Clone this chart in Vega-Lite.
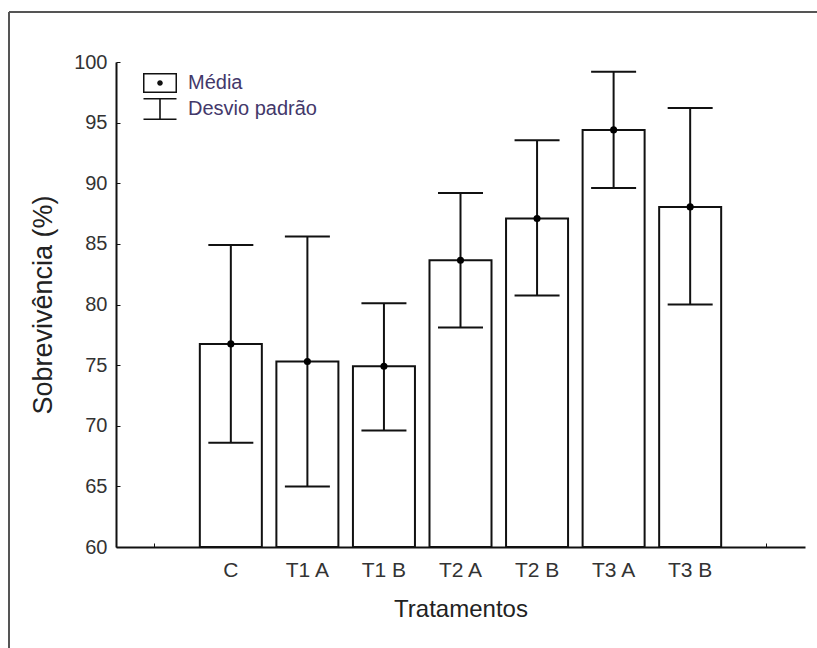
{
  "$schema": "https://vega.github.io/schema/vega-lite/v6.json",
  "width": 808,
  "height": 636,
  "autosize": {"type": "none"},
  "padding": {"left": 9, "top": 12, "right": 0, "bottom": 0},
  "background": "white",
  "config": {
    "font": "Liberation Sans",
    "view": {"stroke": "#555", "strokeWidth": 2, "strokeDash": [808, 1444, 636, 0]}
  },
  "data": {
    "values": [
      {"trat": "C", "media": 76.75, "inf": 68.6, "sup": 84.9},
      {"trat": "T1 A", "media": 75.3, "inf": 65.0, "sup": 85.6},
      {"trat": "T1 B", "media": 74.9, "inf": 69.6, "sup": 80.1},
      {"trat": "T2 A", "media": 83.65, "inf": 78.1, "sup": 89.2},
      {"trat": "T2 B", "media": 87.1, "inf": 80.75, "sup": 93.55},
      {"trat": "T3 A", "media": 94.4, "inf": 89.6, "sup": 99.2},
      {"trat": "T3 B", "media": 88.05, "inf": 80.0, "sup": 96.2}
    ]
  },
  "encoding": {
    "x": {
      "field": "trat",
      "type": "nominal",
      "title": "Tratamentos",
      "scale": {
        "domain": ["_L", "C", "T1 A", "T1 B", "T2 A", "T2 B", "T3 A", "T3 B", "_R"],
        "range": [107, 796],
        "paddingInner": 0,
        "paddingOuter": 0
      },
      "axis": {
        "offset": -101,
        "labelExpr": "slice(datum.label,0,1)=='_' ? '' : datum.label",
        "labelAngle": 0,
        "domainColor": "#111",
        "domainWidth": 2,
        "tickColor": "#111",
        "tickWidth": 1,
        "tickSize": -4,
        "labelFontSize": 21,
        "labelColor": "#333",
        "labelPadding": 16,
        "titleFontSize": 24,
        "titleFontWeight": "normal",
        "titleColor": "#222",
        "titlePadding": 17
      }
    }
  },
  "layer": [
    {
      "mark": {"type": "bar", "fill": "white", "stroke": "#111", "strokeWidth": 2, "width": {"band": 0.81}},
      "encoding": {
        "y": {
          "field": "media",
          "type": "quantitative",
          "title": "Sobrevivência (%)",
          "scale": {"domain": [60, 100], "range": [535, 50], "nice": false, "zero": false},
          "axis": {
            "offset": -107,
            "values": [60, 65, 70, 75, 80, 85, 90, 95, 100],
            "grid": false,
            "domainColor": "#111",
            "domainWidth": 2,
            "tickColor": "#111",
            "tickWidth": 1,
            "tickSize": -4,
            "labelFontSize": 20,
            "labelColor": "#333",
            "labelPadding": 13,
            "titleFontSize": 27,
            "titleFontWeight": "normal",
            "titleColor": "#222",
            "titlePadding": 16
          }
        },
        "y2": {"datum": 60}
      }
    },
    {
      "mark": {"type": "rule", "stroke": "#111", "strokeWidth": 2},
      "encoding": {
        "y": {"field": "inf", "type": "quantitative", "title": "Sobrevivência (%)"},
        "y2": {"field": "sup"}
      }
    },
    {
      "mark": {"type": "tick", "color": "#111", "size": 45, "thickness": 2, "opacity": 1},
      "encoding": {
        "y": {"field": "sup", "type": "quantitative", "title": "Sobrevivência (%)"}
      }
    },
    {
      "mark": {"type": "tick", "color": "#111", "size": 45, "thickness": 2, "opacity": 1},
      "encoding": {
        "y": {"field": "inf", "type": "quantitative", "title": "Sobrevivência (%)"}
      }
    },
    {
      "mark": {"type": "point", "filled": true, "color": "#000", "size": 50, "opacity": 1},
      "encoding": {
        "y": {"field": "media", "type": "quantitative", "title": "Sobrevivência (%)"}
      }
    },
    {
      "data": {"values": [{"leg": "Média"}, {"leg": "Desvio padrão"}]},
      "mark": {"type": "point", "filled": true, "color": "#111", "opacity": 0},
      "encoding": {
        "x": {"value": 0},
        "shape": {
          "field": "leg",
          "type": "nominal",
          "scale": {
            "domain": ["Média", "Desvio padrão"],
            "range": [
              "M-1.7,-1H1.7V1H-1.7Z M-1.55,-0.85V0.85H1.55V-0.85Z M-0.28,0A0.28,0.28 0 1 0 0.28,0A0.28,0.28 0 1 0 -0.28,0Z",
              "M-1.65,-1.1H1.65V-0.95H0.08V0.95H1.65V1.1H-1.65V0.95H-0.08V-0.95H-1.65Z"
            ]
          },
          "legend": {
            "orient": "none",
            "legendX": 141,
            "legendY": 61,
            "title": null,
            "padding": 0,
            "labelFontSize": 20,
            "labelColor": "#43386a",
            "labelFont": "Liberation Sans",
            "labelOffset": 18,
            "rowPadding": 5,
            "symbolSize": 400,
            "symbolStrokeWidth": 0,
            "symbolOpacity": 1,
            "encode": {
              "symbols": {
                "opacity": {"value": 1},
                "fill": {"value": "#111"},
                "strokeWidth": {"value": 0},
                "size": {"value": 400}
              }
            }
          }
        }
      }
    }
  ]
}
